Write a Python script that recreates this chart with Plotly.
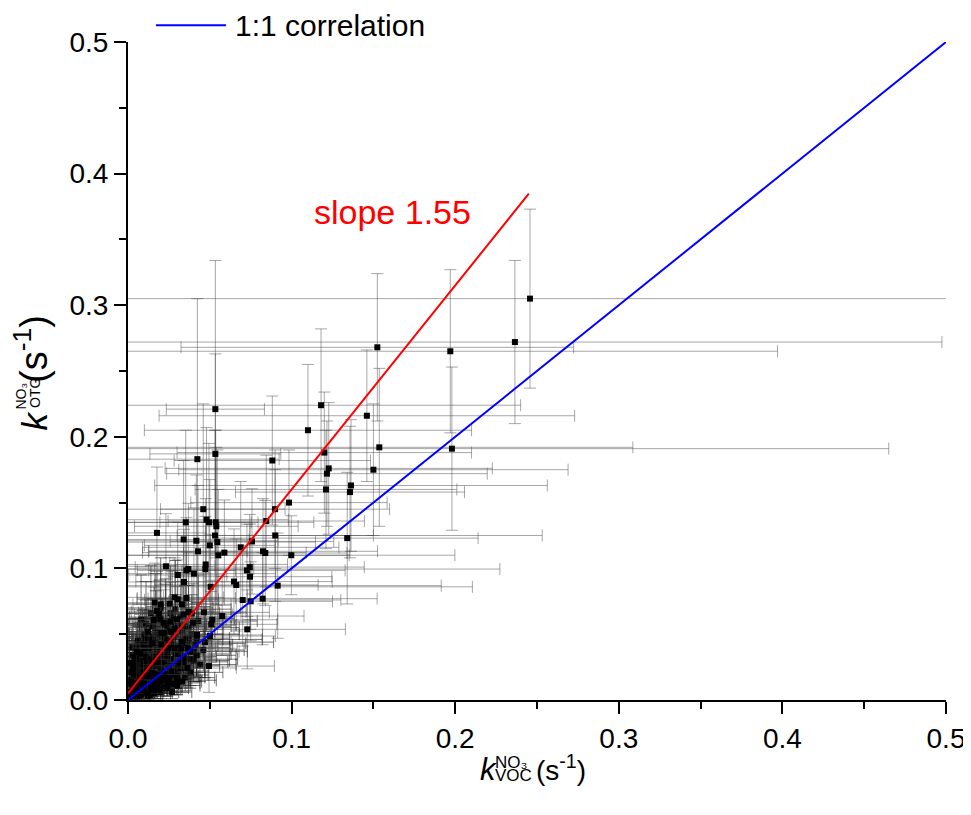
import plotly.graph_objects as go

# ---------------- data ----------------
# isolated / well resolved points: k_VOC, k_OTG and their uncertainties (s^-1)
main_kvoc = [0.2457, 0.2365, 0.197, 0.198, 0.1524, 0.0534, 0.0424, 0.0534, 0.0882, 0.110,
             0.118, 0.120, 0.1227, 0.1216, 0.146, 0.1536, 0.150, 0.121, 0.1363, 0.1357,
             0.0984, 0.134, 0.0998, 0.046, 0.0353, 0.048, 0.0495, 0.0536, 0.054, 0.0177,
             0.0532, 0.034, 0.0418, 0.0546, 0.050, 0.0428, 0.0589, 0.0552, 0.0689, 0.0758,
             0.0899, 0.090, 0.0825, 0.0839, 0.0845, 0.0232, 0.0369, 0.0357, 0.0475, 0.0473,
             0.0304, 0.0403, 0.0342, 0.0744, 0.0727, 0.0746, 0.0648, 0.0662, 0.0915, 0.0505,
             0.0163, 0.020, 0.0255, 0.0285, 0.0304, 0.0357, 0.033, 0.0177, 0.019, 0.034,
             0.0371, 0.039, 0.0464, 0.0157, 0.0198, 0.0218, 0.0259, 0.030, 0.0397, 0.0515,
             0.0576, 0.0509, 0.0701, 0.075, 0.0823, 0.0729, 0.0122, 0.0204, 0.022, 0.026,
             0.0285, 0.0422, 0.0501, 0.0149, 0.033, 0.0204, 0.0245, 0.0285, 0.0326, 0.0367,
             0.0379, 0.0053, 0.0073, 0.0495, 0.0362, 0.0118]
main_kotg = [0.305, 0.272, 0.265, 0.191, 0.268, 0.221, 0.183, 0.187, 0.182, 0.205,
             0.224, 0.188, 0.176, 0.172, 0.216, 0.192, 0.175, 0.160, 0.163, 0.158,
             0.150, 0.123, 0.110, 0.145, 0.135, 0.137, 0.135, 0.135, 0.132, 0.127,
             0.125, 0.122, 0.121, 0.120, 0.1175, 0.113, 0.112, 0.110, 0.116, 0.1205,
             0.145, 0.125, 0.113, 0.1117, 0.136, 0.1016, 0.0995, 0.0985, 0.103, 0.0995,
             0.095, 0.096, 0.0897, 0.101, 0.0985, 0.0937, 0.090, 0.0874, 0.0869, 0.086,
             0.074, 0.0727, 0.0732, 0.078, 0.0765, 0.0775, 0.0727, 0.0676, 0.0656, 0.065,
             0.0669, 0.0659, 0.0666, 0.0608, 0.0613, 0.0587, 0.0595, 0.0613, 0.0587, 0.061,
             0.0638, 0.0575, 0.076, 0.075, 0.077, 0.0537, 0.052, 0.0511, 0.0506, 0.052,
             0.0537, 0.0494, 0.0486, 0.043, 0.0443, 0.0423, 0.0393, 0.0393, 0.0393, 0.0393,
             0.0367, 0.0367, 0.0355, 0.0258, 0.0243, 0.0051]
main_kvoc_err = [0.26, 0.261, 0.20, 0.267, 0.12, 0.03, 0.05, 0.04, 0.06, 0.10,
                 0.122, 0.09, 0.10, 0.098, 0.127, 0.155, 0.119, 0.08, 0.12, 0.07,
                 0.06, 0.08, 0.10, 0.05, 0.04, 0.05, 0.03, 0.06, 0.05, 0.03,
                 0.20, 0.04, 0.05, 0.06, 0.04, 0.03, 0.05, 0.08, 0.06, 0.05,
                 0.07, 0.06, 0.07, 0.05, 0.06, 0.03, 0.04, 0.03, 0.05, 0.18,
                 0.03, 0.05, 0.04, 0.07, 0.06, 0.05, 0.06, 0.05, 0.10, 0.16,
                 0.02, 0.025, 0.03, 0.03, 0.025, 0.03, 0.03, 0.02, 0.025, 0.03,
                 0.035, 0.03, 0.04, 0.02, 0.02, 0.025, 0.03, 0.03, 0.035, 0.04,
                 0.05, 0.04, 0.06, 0.05, 0.07, 0.06, 0.015, 0.02, 0.02, 0.025,
                 0.03, 0.04, 0.04, 0.015, 0.03, 0.02, 0.02, 0.025, 0.03, 0.03,
                 0.03, 0.01, 0.01, 0.04, 0.03, 0.01]
main_kotg_err = [0.068, 0.062, 0.062, 0.062, 0.056, 0.113, 0.122, 0.076, 0.049, 0.05,
                 0.058, 0.046, 0.05, 0.04, 0.05, 0.06, 0.05, 0.045, 0.05, 0.05,
                 0.04, 0.05, 0.03, 0.08, 0.07, 0.07, 0.06, 0.07, 0.06, 0.05,
                 0.08, 0.06, 0.05, 0.07, 0.05, 0.05, 0.04, 0.05, 0.05, 0.04,
                 0.045, 0.05, 0.04, 0.04, 0.05, 0.04, 0.05, 0.04, 0.05, 0.04,
                 0.04, 0.05, 0.04, 0.04, 0.035, 0.04, 0.04, 0.035, 0.04, 0.04,
                 0.03, 0.03, 0.035, 0.03, 0.03, 0.035, 0.03, 0.03, 0.025, 0.03,
                 0.03, 0.03, 0.03, 0.025, 0.03, 0.025, 0.03, 0.025, 0.03, 0.03,
                 0.03, 0.025, 0.035, 0.03, 0.035, 0.03, 0.025, 0.025, 0.02, 0.025,
                 0.025, 0.025, 0.02, 0.02, 0.02, 0.02, 0.02, 0.02, 0.02, 0.02,
                 0.02, 0.02, 0.02, 0.02, 0.015, 0.01]

# dense cluster close to the origin
cluster_kvoc = [0.002, 0.003, 0.004, 0.005, 0.006, 0.006, 0.007, 0.008, 0.008, 0.009,
                0.010, 0.010, 0.011, 0.012, 0.012, 0.013, 0.014, 0.014, 0.015, 0.016,
                0.016, 0.017, 0.018, 0.018, 0.019, 0.020, 0.020, 0.021, 0.022, 0.022,
                0.023, 0.024, 0.025, 0.025, 0.026, 0.027, 0.028, 0.029, 0.030, 0.031,
                0.032, 0.033, 0.034, 0.001, 0.002, 0.003, 0.004, 0.005, 0.007, 0.009,
                0.011, 0.013, 0.015, 0.017, 0.019, 0.021, 0.023, 0.026, 0.028, 0.012,
                0.016, 0.020, 0.024, 0.027, 0.030, 0.035, 0.038, 0.040, 0.042, 0.044,
                0.046, 0.041, 0.037, 0.033, 0.029, 0.024, 0.015, 0.010, 0.006, 0.003,
                0.004, 0.006, 0.008, 0.010, 0.012, 0.014, 0.016, 0.018, 0.020, 0.022,
                0.024, 0.026, 0.028, 0.030, 0.032, 0.034, 0.036, 0.038, 0.040, 0.042,
                0.005, 0.007, 0.009, 0.011, 0.013, 0.015, 0.017, 0.019, 0.021, 0.023,
                0.025, 0.027, 0.029, 0.031, 0.033, 0.035, 0.037, 0.039, 0.043, 0.047,
                0.003, 0.006, 0.009, 0.012, 0.015, 0.018, 0.021, 0.024, 0.027, 0.030,
                0.008, 0.011, 0.014, 0.017, 0.020, 0.023, 0.026, 0.029, 0.032, 0.035,
                0.001, 0.002, 0.003, 0.004, 0.005, 0.006, 0.007, 0.008, 0.009, 0.010,
                0.011, 0.012, 0.013, 0.014, 0.015, 0.001, 0.003, 0.005, 0.007, 0.009,
                0.011, 0.013, 0.002, 0.004, 0.006, 0.008, 0.010, 0.012, 0.014, 0.016]
cluster_kotg = [0.004, 0.010, 0.018, 0.008, 0.024, 0.013, 0.030, 0.006, 0.020, 0.015,
                0.027, 0.010, 0.034, 0.018, 0.024, 0.012, 0.029, 0.007, 0.021, 0.015,
                0.036, 0.026, 0.011, 0.031, 0.019, 0.024, 0.014, 0.033, 0.009, 0.028,
                0.020, 0.038, 0.016, 0.026, 0.031, 0.012, 0.022, 0.035, 0.018, 0.028,
                0.024, 0.014, 0.032, 0.002, 0.015, 0.025, 0.032, 0.040, 0.003, 0.038,
                0.045, 0.040, 0.048, 0.043, 0.050, 0.040, 0.046, 0.043, 0.048, 0.003,
                0.005, 0.006, 0.009, 0.006, 0.011, 0.017, 0.021, 0.030, 0.034, 0.027,
                0.038, 0.042, 0.046, 0.052, 0.056, 0.055, 0.056, 0.050, 0.045, 0.040,
                0.012, 0.019, 0.027, 0.022, 0.031, 0.026, 0.020, 0.038, 0.029, 0.017,
                0.033, 0.021, 0.040, 0.026, 0.035, 0.029, 0.043, 0.031, 0.037, 0.046,
                0.028, 0.035, 0.042, 0.047, 0.039, 0.044, 0.052, 0.036, 0.048, 0.058,
                0.045, 0.062, 0.050, 0.041, 0.057, 0.047, 0.055, 0.050, 0.060, 0.044,
                0.007, 0.005, 0.011, 0.008, 0.012, 0.009, 0.016, 0.013, 0.019, 0.015,
                0.061, 0.058, 0.066, 0.062, 0.070, 0.057, 0.066, 0.069, 0.063, 0.056,
                0.006, 0.012, 0.003, 0.020, 0.009, 0.016, 0.026, 0.004, 0.022, 0.013,
                0.030, 0.007, 0.018, 0.025, 0.010, 0.028, 0.034, 0.023, 0.040, 0.017,
                0.036, 0.004, 0.021, 0.027, 0.033, 0.014, 0.042, 0.019, 0.038, 0.031]
cluster_kvoc_err = [0.005, 0.006, 0.008, 0.006, 0.010, 0.008, 0.012, 0.007, 0.010, 0.009,
                    0.012, 0.008, 0.014, 0.011, 0.012, 0.010, 0.014, 0.008, 0.012, 0.011,
                    0.016, 0.013, 0.010, 0.015, 0.012, 0.014, 0.011, 0.016, 0.010, 0.015,
                    0.013, 0.018, 0.012, 0.015, 0.016, 0.011, 0.014, 0.018, 0.013, 0.016,
                    0.015, 0.012, 0.017, 0.004, 0.007, 0.010, 0.012, 0.014, 0.006, 0.013,
                    0.016, 0.015, 0.018, 0.016, 0.019, 0.016, 0.018, 0.017, 0.019, 0.008,
                    0.010, 0.011, 0.013, 0.012, 0.014, 0.018, 0.020, 0.022, 0.024, 0.022,
                    0.025, 0.023, 0.021, 0.020, 0.018, 0.016, 0.012, 0.009, 0.007, 0.005,
                    0.012, 0.015, 0.020, 0.018, 0.024, 0.016, 0.022, 0.028, 0.019, 0.025,
                    0.030, 0.021, 0.034, 0.026, 0.031, 0.027, 0.036, 0.029, 0.033, 0.040,
                    0.014, 0.018, 0.022, 0.026, 0.020, 0.024, 0.030, 0.023, 0.028, 0.035,
                    0.026, 0.038, 0.029, 0.024, 0.033, 0.027, 0.031, 0.029, 0.036, 0.042,
                    0.008, 0.010, 0.012, 0.014, 0.016, 0.015, 0.018, 0.020, 0.022, 0.024,
                    0.020, 0.024, 0.028, 0.026, 0.032, 0.025, 0.030, 0.034, 0.031, 0.028,
                    0.004, 0.006, 0.005, 0.008, 0.007, 0.009, 0.012, 0.006, 0.011, 0.010,
                    0.014, 0.008, 0.012, 0.015, 0.009, 0.004, 0.007, 0.009, 0.012, 0.010,
                    0.014, 0.008, 0.005, 0.008, 0.010, 0.007, 0.013, 0.009, 0.015, 0.012]
cluster_kotg_err = [0.004, 0.006, 0.008, 0.005, 0.010, 0.007, 0.012, 0.005, 0.009, 0.008,
                    0.011, 0.006, 0.013, 0.009, 0.010, 0.007, 0.012, 0.005, 0.010, 0.008,
                    0.014, 0.011, 0.007, 0.013, 0.009, 0.011, 0.008, 0.013, 0.006, 0.012,
                    0.010, 0.015, 0.009, 0.011, 0.013, 0.008, 0.010, 0.014, 0.009, 0.012,
                    0.011, 0.008, 0.013, 0.003, 0.008, 0.011, 0.013, 0.016, 0.003, 0.015,
                    0.018, 0.016, 0.019, 0.017, 0.020, 0.016, 0.018, 0.017, 0.019, 0.003,
                    0.004, 0.005, 0.006, 0.005, 0.007, 0.010, 0.012, 0.014, 0.015, 0.013,
                    0.016, 0.017, 0.018, 0.020, 0.021, 0.020, 0.021, 0.019, 0.017, 0.015,
                    0.010, 0.014, 0.018, 0.015, 0.020, 0.017, 0.014, 0.024, 0.019, 0.012,
                    0.021, 0.015, 0.025, 0.017, 0.022, 0.019, 0.027, 0.020, 0.023, 0.028,
                    0.019, 0.022, 0.026, 0.029, 0.024, 0.027, 0.031, 0.023, 0.029, 0.034,
                    0.027, 0.036, 0.030, 0.025, 0.033, 0.028, 0.032, 0.030, 0.035, 0.027,
                    0.006, 0.005, 0.008, 0.007, 0.009, 0.008, 0.011, 0.010, 0.012, 0.011,
                    0.034, 0.032, 0.036, 0.034, 0.038, 0.031, 0.036, 0.037, 0.034, 0.031,
                    0.005, 0.008, 0.003, 0.011, 0.006, 0.009, 0.013, 0.003, 0.012, 0.008,
                    0.015, 0.005, 0.010, 0.013, 0.007, 0.014, 0.017, 0.012, 0.019, 0.010,
                    0.018, 0.003, 0.012, 0.014, 0.016, 0.009, 0.020, 0.011, 0.018, 0.016]

# fitted line and reference line
fit_slope = 1.55
fit_intercept = 0.005
fit_x = [0.0, 0.245]
one_to_one_x = [0.0, 0.5]

FONT = "Arial, Liberation Sans, Helvetica, sans-serif"
ERR_MAIN = "rgba(60,60,60,0.45)"
ERR_CLUSTER = "rgba(25,25,25,0.6)"

fig = go.Figure()

for xs, ys, xe, ye, ec in [(cluster_kvoc, cluster_kotg, cluster_kvoc_err, cluster_kotg_err, ERR_CLUSTER),
                           (main_kvoc, main_kotg, main_kvoc_err, main_kotg_err, ERR_MAIN)]:
    fig.add_trace(go.Scatter(
        x=xs, y=ys, mode="markers",
        marker=dict(symbol="square", size=6, color="black"),
        error_x=dict(type="data", array=xe, visible=True, color=ec, thickness=1, width=6),
        error_y=dict(type="data", array=ye, visible=True, color=ec, thickness=1, width=6),
        showlegend=False, hoverinfo="x+y",
    ))

fig.add_trace(go.Scatter(
    x=fit_x, y=[fit_intercept + fit_slope * v for v in fit_x],
    mode="lines", line=dict(color="#ff0000", width=2), showlegend=False,
))
fig.add_trace(go.Scatter(
    x=one_to_one_x, y=one_to_one_x,
    mode="lines", line=dict(color="#0000ff", width=2), name="1:1 correlation", showlegend=False,
))

# The page keeps its 8px body margin, so figure pixels = screen pixels - 8.
OFF = 8
W, H = 971 - OFF, 815 - 2 * OFF
L, R, T, B = 128 - OFF, 946 - OFF, 42 - OFF, 700 - OFF
def px(x):      # screen x pixel -> paper coordinate
    return (x - OFF - L) / (R - L)
def py(y):      # screen y pixel -> paper coordinate
    return (B - (y - OFF)) / (B - T)

ann = []
# legend (manual, to match the long line sample)
fig.add_shape(type="line", xref="paper", yref="paper", x0=px(156), x1=px(226), y0=py(25.3), y1=py(25.3),
              line=dict(color="#0000ff", width=2))
ann.append(dict(text="1:1 correlation", x=px(235), y=py(42.4), xanchor="left", yanchor="bottom",
                font=dict(size=30, color="black", family=FONT)))

# slope label
ann.append(dict(text="slope 1.55", x=0.1615, y=0.3567, xref="x", yref="y", xanchor="center",
                yanchor="bottom", font=dict(size=34, color="#ff0000", family=FONT)))

# x-axis title pieces: k (italic) with stacked NO3 superscript / VOC subscript
ann += [
    dict(text="<i>k</i>", x=px(480), y=py(786.6), xanchor="left", yanchor="bottom", font=dict(size=31, family=FONT)),
    dict(text="NO₃", x=px(495), y=py(771.6), xanchor="left", yanchor="bottom", font=dict(size=17, family=FONT)),
    dict(text="VOC", x=px(495), y=py(784.6), xanchor="left", yanchor="bottom", font=dict(size=17, family=FONT)),
    dict(text="(s<sup>-1</sup>)", x=px(536), y=py(786), xanchor="left", yanchor="bottom", font=dict(size=28, family=FONT)),
]
# y-axis title pieces (rotated, reading upwards)
ann += [
    dict(text="<i>k</i>", x=px(54.4), y=py(430), xanchor="right", yanchor="bottom", textangle=-90, font=dict(size=35, family=FONT)),
    dict(text="NO₃", x=px(28), y=py(410), xanchor="right", yanchor="bottom", textangle=-90, font=dict(size=14, family=FONT)),
    dict(text="OTG", x=px(43), y=py(408), xanchor="right", yanchor="bottom", textangle=-90, font=dict(size=14, family=FONT)),
    dict(text="(s<sup>-1</sup>)", x=px(55), y=py(383), xanchor="right", yanchor="bottom", textangle=-90, font=dict(size=38, family=FONT)),
]
for a in ann:
    a.setdefault("xref", "paper")
    a.setdefault("yref", "paper")
    a["showarrow"] = False
    a["borderpad"] = 0
    a["borderwidth"] = 0
fig.update_layout(annotations=ann)

axis_common = dict(
    range=[0, 0.5], dtick=0.1, tick0=0, tickformat=".1f",
    showgrid=False, zeroline=False, showline=True, linecolor="black", linewidth=2,
    ticks="outside", ticklen=12, tickwidth=2, tickcolor="black",
    tickfont=dict(size=28, family=FONT, color="black"),
    minor=dict(ticks="outside", ticklen=7, tickwidth=2, tickcolor="black", dtick=0.05, showgrid=False),
    mirror=False, fixedrange=True, ticklabeloverflow="allow", automargin=False,
)
fig.update_xaxes(**axis_common)
fig.update_yaxes(**axis_common)

fig.update_layout(
    width=W, height=H, autosize=False,
    margin=dict(l=L, r=W - R, t=T, b=H - B, autoexpand=False),
    paper_bgcolor="white", plot_bgcolor="white",
    font=dict(family=FONT, color="black"),
    showlegend=False,
)

fig.write_html("out.html",
               config=dict(displayModeBar=False, responsive=False),
               post_script="document.body.style.overflow='hidden';")
